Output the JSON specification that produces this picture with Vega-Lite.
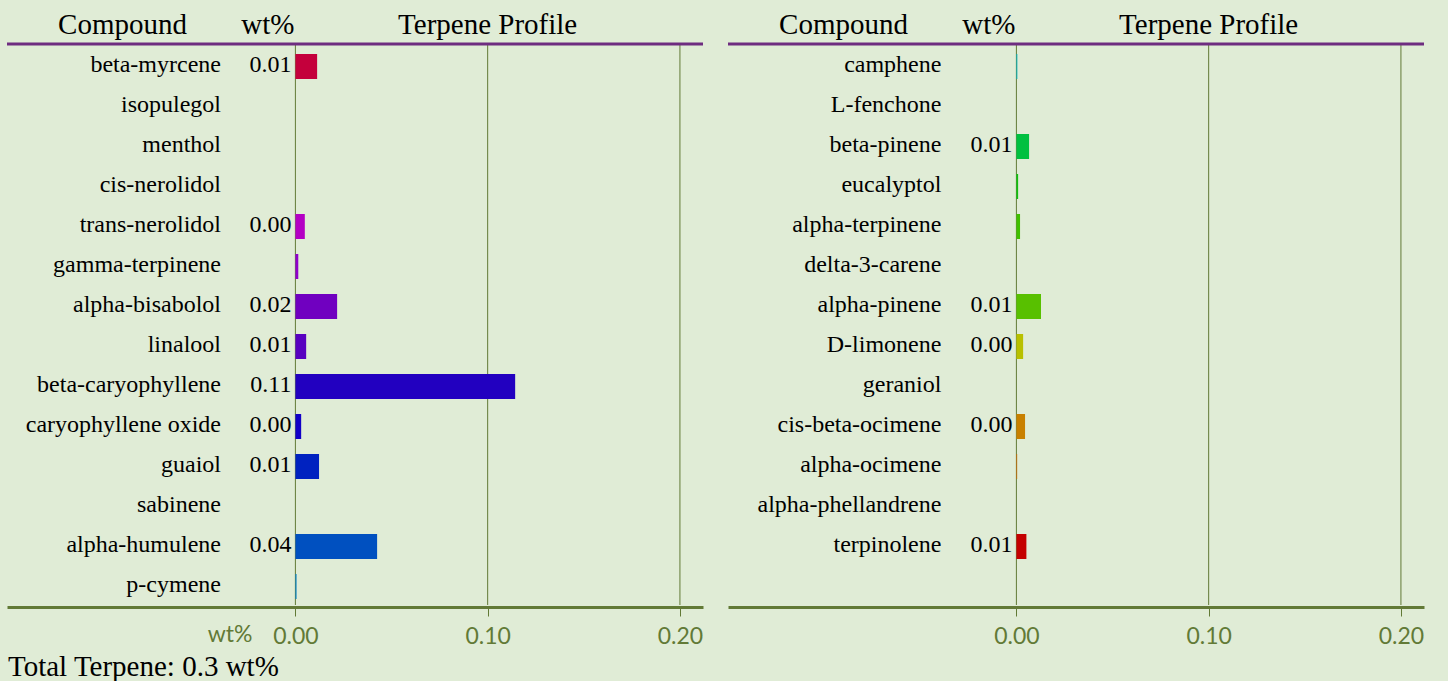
{
  "$schema": "https://vega.github.io/schema/vega-lite/v6.json",
  "background": "#e0ecd6",
  "padding": {"left": 5, "top": 5, "right": 30, "bottom": 10},
  "bounds": "flush",
  "spacing": 25,
  "config": {"view": {"stroke": null}, "font": "Liberation Serif"},
  "datasets": {
    "left": [
      {"name": "beta-myrcene", "wt": 0.0113, "label": "0.01", "color": "#c4003c"},
      {"name": "isopulegol", "wt": 0, "label": "", "color": "#c000a0"},
      {"name": "menthol", "wt": 0, "label": "", "color": "#c000b0"},
      {"name": "cis-nerolidol", "wt": 0, "label": "", "color": "#c000c0"},
      {"name": "trans-nerolidol", "wt": 0.0049, "label": "0.00", "color": "#b400c4"},
      {"name": "gamma-terpinene", "wt": 0.0015, "label": "", "color": "#9000cc"},
      {"name": "alpha-bisabolol", "wt": 0.0217, "label": "0.02", "color": "#7000c0"},
      {"name": "linalool", "wt": 0.0056, "label": "0.01", "color": "#5800c0"},
      {"name": "beta-caryophyllene", "wt": 0.1143, "label": "0.11", "color": "#2200c0"},
      {"name": "caryophyllene oxide", "wt": 0.003, "label": "0.00", "color": "#1200c8"},
      {"name": "guaiol", "wt": 0.0123, "label": "0.01", "color": "#0022c0"},
      {"name": "sabinene", "wt": 0, "label": "", "color": "#0038c0"},
      {"name": "alpha-humulene", "wt": 0.0425, "label": "0.04", "color": "#0050c0"},
      {"name": "p-cymene", "wt": 0.0006, "label": "", "color": "#0080c8"}
    ],
    "right": [
      {"name": "camphene", "wt": 0.0005, "label": "", "color": "#00b4c4"},
      {"name": "L-fenchone", "wt": 0, "label": "", "color": "#00c0a0"},
      {"name": "beta-pinene", "wt": 0.0066, "label": "0.01", "color": "#00c040"},
      {"name": "eucalyptol", "wt": 0.0009, "label": "", "color": "#10c010"},
      {"name": "alpha-terpinene", "wt": 0.0019, "label": "", "color": "#40c000"},
      {"name": "delta-3-carene", "wt": 0, "label": "", "color": "#50c000"},
      {"name": "alpha-pinene", "wt": 0.0128, "label": "0.01", "color": "#58c000"},
      {"name": "D-limonene", "wt": 0.0035, "label": "0.00", "color": "#b8c000"},
      {"name": "geraniol", "wt": 0, "label": "", "color": "#c0a000"},
      {"name": "cis-beta-ocimene", "wt": 0.0045, "label": "0.00", "color": "#c88000"},
      {"name": "alpha-ocimene", "wt": 0.0004, "label": "", "color": "#d06800"},
      {"name": "alpha-phellandrene", "wt": 0, "label": "", "color": "#c83000"},
      {"name": "terpinolene", "wt": 0.0052, "label": "0.01", "color": "#c40000"}
    ],
    "ticks": [{"tick": 0}, {"tick": 0.1}, {"tick": 0.2}],
    "one": [{}]
  },
  "hconcat": [
    {
      "width": 696,
      "height": 600,
      "layer": [
        {
          "data": {"name": "ticks"},
          "mark": {"type": "rule", "color": "#627a36", "strokeWidth": 1},
          "encoding": {
            "x": {
              "field": "tick", "type": "quantitative",
              "scale": {"domain": [-0.15, 0.212], "nice": false, "zero": false},
              "axis": {"values": [0, 0.1, 0.2], "format": ".2f", "title": null, "grid": false,
                       "domainColor": "#627a36", "domainWidth": 3, "offset": 2,
                       "tickColor": "#627a36", "tickSize": 9, "tickWidth": 1,
                       "labelFont": "Lato", "labelFontSize": 23, "labelColor": "#627a36", "labelPadding": 9}
            },
            "y": {
              "datum": "beta-myrcene", "type": "nominal", "bandPosition": -0.3,
              "scale": {"domain": ["_header", "beta-myrcene", "isopulegol", "menthol", "cis-nerolidol", "trans-nerolidol", "gamma-terpinene", "alpha-bisabolol", "linalool", "beta-caryophyllene", "caryophyllene oxide", "guaiol", "sabinene", "alpha-humulene", "p-cymene"],
                        "paddingInner": 0.375, "paddingOuter": 0.1875},
              "axis": null
            },
            "y2": {"datum": "p-cymene", "bandPosition": 1.3}
          }
        },
        {
          "data": {"name": "one"},
          "mark": {"type": "rule", "color": "#6e2c80", "strokeWidth": 3},
          "encoding": {"y": {"datum": "beta-myrcene", "type": "nominal", "bandPosition": -0.34}}
        },
        {
          "data": {"name": "left"},
          "mark": {"type": "bar", "yOffset": 1.5},
          "encoding": {
            "x": {"field": "wt", "type": "quantitative"},
            "y": {"field": "name", "type": "nominal"},
            "color": {"field": "color", "type": "nominal", "scale": null}
          }
        },
        {
          "data": {"name": "left"},
          "mark": {"type": "text", "align": "right", "baseline": "middle", "fontSize": 24, "font": "Liberation Serif", "color": "#000000"},
          "encoding": {
            "x": {"datum": -0.0387, "type": "quantitative"},
            "y": {"field": "name", "type": "nominal"},
            "text": {"field": "name"}
          }
        },
        {
          "data": {"name": "left"},
          "mark": {"type": "text", "align": "right", "baseline": "middle", "fontSize": 24, "font": "Liberation Serif", "color": "#000000", "dx": -4},
          "encoding": {
            "x": {"datum": 0, "type": "quantitative"},
            "y": {"field": "name", "type": "nominal"},
            "text": {"field": "label"}
          }
        },
        {
          "data": {"name": "one"},
          "mark": {"type": "text", "text": "Compound", "align": "center", "baseline": "middle", "fontSize": 29, "font": "Liberation Serif", "color": "#000000"},
          "encoding": {"x": {"datum": -0.0899, "type": "quantitative"}, "y": {"datum": "_header", "type": "nominal"}}
        },
        {
          "data": {"name": "one"},
          "mark": {"type": "text", "text": "wt%", "align": "right", "baseline": "middle", "fontSize": 29, "font": "Liberation Serif", "color": "#000000", "dx": -1},
          "encoding": {"x": {"datum": 0, "type": "quantitative"}, "y": {"datum": "_header", "type": "nominal"}}
        },
        {
          "data": {"name": "one"},
          "mark": {"type": "text", "text": "Terpene Profile", "align": "center", "baseline": "middle", "fontSize": 29, "font": "Liberation Serif", "color": "#000000"},
          "encoding": {"x": {"datum": 0.1, "type": "quantitative"}, "y": {"datum": "_header", "type": "nominal"}}
        },
        {
          "data": {"name": "one"},
          "mark": {"type": "text", "text": "wt%", "align": "right", "baseline": "middle", "fontSize": 23, "font": "Lato", "color": "#627a36", "dx": -43, "dy": 50},
          "encoding": {"x": {"datum": 0, "type": "quantitative"}, "y": {"datum": "p-cymene", "type": "nominal"}}
        },
        {
          "data": {"name": "one"},
          "mark": {"type": "text", "text": "Total Terpene: 0.3 wt%", "align": "left", "baseline": "middle", "fontSize": 29, "font": "Liberation Serif", "color": "#000000", "dx": 1, "dy": 82},
          "encoding": {"x": {"datum": -0.15, "type": "quantitative"}, "y": {"datum": "p-cymene", "type": "nominal"}}
        }
      ]
    },
    {
      "width": 696,
      "height": 600,
      "layer": [
        {
          "data": {"name": "ticks"},
          "mark": {"type": "rule", "color": "#627a36", "strokeWidth": 1},
          "encoding": {
            "x": {
              "field": "tick", "type": "quantitative",
              "scale": {"domain": [-0.15, 0.212], "nice": false, "zero": false},
              "axis": {"values": [0, 0.1, 0.2], "format": ".2f", "title": null, "grid": false,
                       "domainColor": "#627a36", "domainWidth": 3, "offset": 2,
                       "tickColor": "#627a36", "tickSize": 9, "tickWidth": 1,
                       "labelFont": "Lato", "labelFontSize": 23, "labelColor": "#627a36", "labelPadding": 9}
            },
            "y": {
              "datum": "camphene", "type": "nominal", "bandPosition": -0.3,
              "scale": {"domain": ["_header", "camphene", "L-fenchone", "beta-pinene", "eucalyptol", "alpha-terpinene", "delta-3-carene", "alpha-pinene", "D-limonene", "geraniol", "cis-beta-ocimene", "alpha-ocimene", "alpha-phellandrene", "terpinolene", "_blank"],
                        "paddingInner": 0.375, "paddingOuter": 0.1875},
              "axis": null
            },
            "y2": {"datum": "_blank", "bandPosition": 1.3}
          }
        },
        {
          "data": {"name": "one"},
          "mark": {"type": "rule", "color": "#6e2c80", "strokeWidth": 3},
          "encoding": {"y": {"datum": "camphene", "type": "nominal", "bandPosition": -0.34}}
        },
        {
          "data": {"name": "right"},
          "mark": {"type": "bar", "yOffset": 1.5},
          "encoding": {
            "x": {"field": "wt", "type": "quantitative"},
            "y": {"field": "name", "type": "nominal"},
            "color": {"field": "color", "type": "nominal", "scale": null}
          }
        },
        {
          "data": {"name": "right"},
          "mark": {"type": "text", "align": "right", "baseline": "middle", "fontSize": 24, "font": "Liberation Serif", "color": "#000000"},
          "encoding": {
            "x": {"datum": -0.039, "type": "quantitative"},
            "y": {"field": "name", "type": "nominal"},
            "text": {"field": "name"}
          }
        },
        {
          "data": {"name": "right"},
          "mark": {"type": "text", "align": "right", "baseline": "middle", "fontSize": 24, "font": "Liberation Serif", "color": "#000000", "dx": -4},
          "encoding": {
            "x": {"datum": 0, "type": "quantitative"},
            "y": {"field": "name", "type": "nominal"},
            "text": {"field": "label"}
          }
        },
        {
          "data": {"name": "one"},
          "mark": {"type": "text", "text": "Compound", "align": "center", "baseline": "middle", "fontSize": 29, "font": "Liberation Serif", "color": "#000000"},
          "encoding": {"x": {"datum": -0.0899, "type": "quantitative"}, "y": {"datum": "_header", "type": "nominal"}}
        },
        {
          "data": {"name": "one"},
          "mark": {"type": "text", "text": "wt%", "align": "right", "baseline": "middle", "fontSize": 29, "font": "Liberation Serif", "color": "#000000", "dx": -1},
          "encoding": {"x": {"datum": 0, "type": "quantitative"}, "y": {"datum": "_header", "type": "nominal"}}
        },
        {
          "data": {"name": "one"},
          "mark": {"type": "text", "text": "Terpene Profile", "align": "center", "baseline": "middle", "fontSize": 29, "font": "Liberation Serif", "color": "#000000"},
          "encoding": {"x": {"datum": 0.1, "type": "quantitative"}, "y": {"datum": "_header", "type": "nominal"}}
        }
      ]
    }
  ]
}
